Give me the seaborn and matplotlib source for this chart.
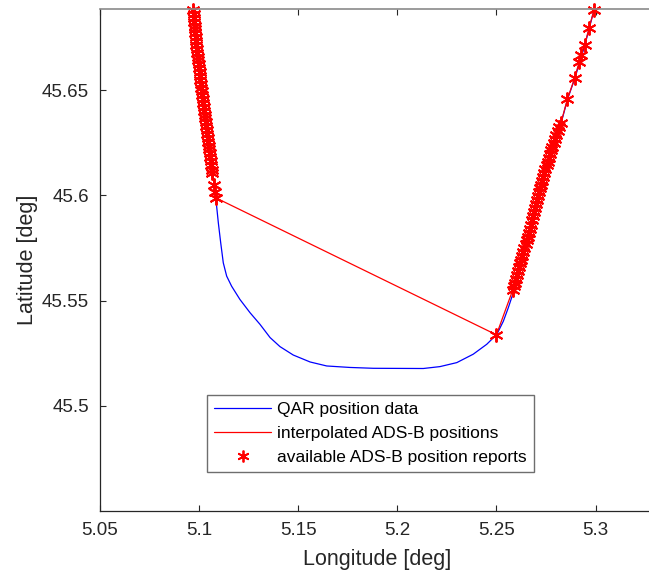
import matplotlib
matplotlib.use("Agg")
import matplotlib.pyplot as plt
import seaborn as sns
import pandas as pd
from matplotlib.lines import Line2D

# ---------------- data ----------------
qar_lon = [5.0968, 5.0987, 5.1020, 5.1050, 5.1065, 5.1076, 5.1085, 5.1097, 5.1109,
           5.1122, 5.1139, 5.1164, 5.1206, 5.1257, 5.1307, 5.1358, 5.1408, 5.1475,
           5.1560, 5.1644, 5.1761, 5.1879, 5.2131, 5.2215, 5.2300, 5.2383, 5.2451,
           5.2502, 5.2535, 5.2560, 5.2585, 5.2602, 5.2625, 5.2667, 5.2709, 5.2743,
           5.2784, 5.2826, 5.2859, 5.2896, 5.2946, 5.2992]
qar_lat = [45.6885, 45.6690, 45.6453, 45.6216, 45.6121, 45.6050, 45.5979, 45.5869, 45.5774,
           45.5679, 45.5616, 45.5568, 45.5505, 45.5442, 45.5387, 45.5324, 45.5281, 45.5241,
           45.5208, 45.5189, 45.5182, 45.5178, 45.5177, 45.5186, 45.5205, 45.5245, 45.5292,
           45.5339, 45.5402, 45.5466, 45.5537, 45.5576, 45.5694, 45.5822, 45.5979, 45.6107,
           45.6231, 45.6342, 45.6457, 45.6557, 45.6713, 45.6879]

# ADS-B reports, west track (north -> south)
adsb_w_lon = [5.0970, 5.0972, 5.0973, 5.0975, 5.0977, 5.0979, 5.0980, 5.0982, 5.0983, 5.0985,
              5.0987, 5.0989, 5.0992, 5.0994, 5.0997, 5.1000, 5.1002, 5.1005, 5.1007, 5.1010,
              5.1012, 5.1015, 5.1017, 5.1020, 5.1022, 5.1024, 5.1027, 5.1029, 5.1031, 5.1034,
              5.1036, 5.1038, 5.1041, 5.1043, 5.1045, 5.1048, 5.1050, 5.1053, 5.1055, 5.1058,
              5.1061, 5.1065, 5.1067, 5.1076, 5.1080, 5.1084]
adsb_w_lat = [45.6879, 45.6860, 45.6842, 45.6825, 45.6806, 45.6788, 45.6770, 45.6751, 45.6733, 45.6714,
              45.6696, 45.6678, 45.6659, 45.6641, 45.6622, 45.6604, 45.6586, 45.6567, 45.6549, 45.6530,
              45.6512, 45.6494, 45.6475, 45.6457, 45.6438, 45.6420, 45.6402, 45.6383, 45.6365, 45.6346,
              45.6328, 45.6310, 45.6291, 45.6273, 45.6254, 45.6236, 45.6218, 45.6199, 45.6181, 45.6162,
              45.6144, 45.6121, 45.6107, 45.6050, 45.6017, 45.5988]

# ADS-B reports, east track (south -> north)
adsb_e_lon = [5.2500,
              5.2583, 5.2588, 5.2592, 5.2598, 5.2603, 5.2608, 5.2613, 5.2618, 5.2623, 5.2629,
              5.2635, 5.2641, 5.2647, 5.2653, 5.2659, 5.2665, 5.2670, 5.2675, 5.2681, 5.2686,
              5.2691, 5.2697, 5.2702, 5.2707, 5.2712, 5.2717, 5.2722, 5.2726, 5.2731, 5.2736,
              5.2741, 5.2747, 5.2753, 5.2759, 5.2764, 5.2770, 5.2776, 5.2782, 5.2789, 5.2796,
              5.2803, 5.2810, 5.2818, 5.2825,
              5.2858, 5.2895, 5.2917, 5.2928, 5.2945, 5.2967, 5.2992]
adsb_e_lat = [45.5337,
              45.5552, 45.5568, 45.5585, 45.5604, 45.5622, 45.5641, 45.5659, 45.5677, 45.5694, 45.5712,
              45.5731, 45.5749, 45.5768, 45.5786, 45.5804, 45.5822, 45.5842, 45.5861, 45.5881, 45.5900,
              45.5920, 45.5940, 45.5959, 45.5979, 45.5997, 45.6015, 45.6033, 45.6051, 45.6070, 45.6088,
              45.6107, 45.6125, 45.6143, 45.6160, 45.6178, 45.6195, 45.6213, 45.6231, 45.6249, 45.6267,
              45.6286, 45.6305, 45.6323, 45.6342,
              45.6457, 45.6557, 45.6633, 45.6666, 45.6713, 45.6794, 45.6879]

x_ticks = [5.05, 5.10, 5.15, 5.20, 5.25, 5.30]
x_tick_labels = ["5.05", "5.1", "5.15", "5.2", "5.25", "5.3"]
y_ticks = [45.50, 45.55, 45.60, 45.65]
y_tick_labels = ["45.5", "45.55", "45.6", "45.65"]

legend_labels = ["QAR position data", "interpolated ADS-B positions",
                 "available ADS-B position reports"]

# ---------------- style ----------------
sns.set_style("ticks")
plt.rcParams["font.family"] = ["Liberation Sans", "DejaVu Sans"]

W, H = 649, 577
fig = plt.figure(figsize=(W / 100, H / 100), dpi=100)
ax_left, ax_right, ax_top, ax_bottom = 100, 655, 9, 511
ax = fig.add_axes([ax_left / W, 1 - ax_bottom / H,
                   (ax_right - ax_left) / W, (ax_bottom - ax_top) / H])

df_qar = pd.DataFrame({"lon": qar_lon, "lat": qar_lat})
df_adsb = pd.DataFrame({"lon": adsb_w_lon + adsb_e_lon, "lat": adsb_w_lat + adsb_e_lat})

sns.lineplot(data=df_qar, x="lon", y="lat", sort=False, estimator=None,
             color=(0, 0, 1), linewidth=0.9, ax=ax)
sns.lineplot(data=df_adsb, x="lon", y="lat", sort=False, estimator=None,
             color=(1, 0, 0), linewidth=0.9, ax=ax)
sns.lineplot(data=df_adsb, x="lon", y="lat", sort=False, estimator=None,
             linestyle="", marker=(6, 2, 0), markersize=10, markeredgewidth=1.4,
             markeredgecolor=(1, 0, 0), color=(1, 0, 0), ax=ax, clip_on=False)

ax.set_xlim(5.05, 5.33)
ax.set_ylim(45.45, 45.6885)
ax.set_xticks(x_ticks)
ax.set_xticklabels(x_tick_labels)
ax.set_yticks(y_ticks)
ax.set_yticklabels(y_tick_labels)

dark = "#262626"
ax.tick_params(axis="both", direction="in", length=4.5, width=0.8, colors=dark,
               labelsize=13.5, top=True, right=False, pad=8)
for s in ["left", "bottom"]:
    ax.spines[s].set_color(dark)
    ax.spines[s].set_linewidth(0.9)
ax.spines["top"].set_visible(True)
ax.spines["top"].set_color("#8a8a8a")
ax.spines["top"].set_linewidth(1.2)
ax.spines["right"].set_visible(False)

ax.set_xlabel("Longitude [deg]", fontsize=15.5, color=dark, labelpad=7)
ax.set_ylabel("Latitude [deg]", fontsize=15.5, color=dark, labelpad=3)

handles = [
    Line2D([], [], color=(0, 0, 1), linewidth=0.9),
    Line2D([], [], color=(1, 0, 0), linewidth=0.9),
    Line2D([], [], color=(1, 0, 0), linestyle="", marker=(6, 2, 0),
           markersize=8.5, markeredgewidth=1.3, markeredgecolor=(1, 0, 0)),
]
leg = ax.legend(handles, legend_labels, loc="upper left",
                bbox_to_anchor=(207 / W, 1 - 395 / H), bbox_transform=fig.transFigure,
                fontsize=12.5, frameon=True, fancybox=False, framealpha=1,
                edgecolor="#6e6e6e", borderpad=0.4, borderaxespad=0,
                handlelength=3.3, handletextpad=0.35, labelspacing=0.5)
leg.get_frame().set_linewidth(1.0)
for t in leg.get_texts():
    t.set_color("#000000")

fig.savefig("out.png", dpi=100)
